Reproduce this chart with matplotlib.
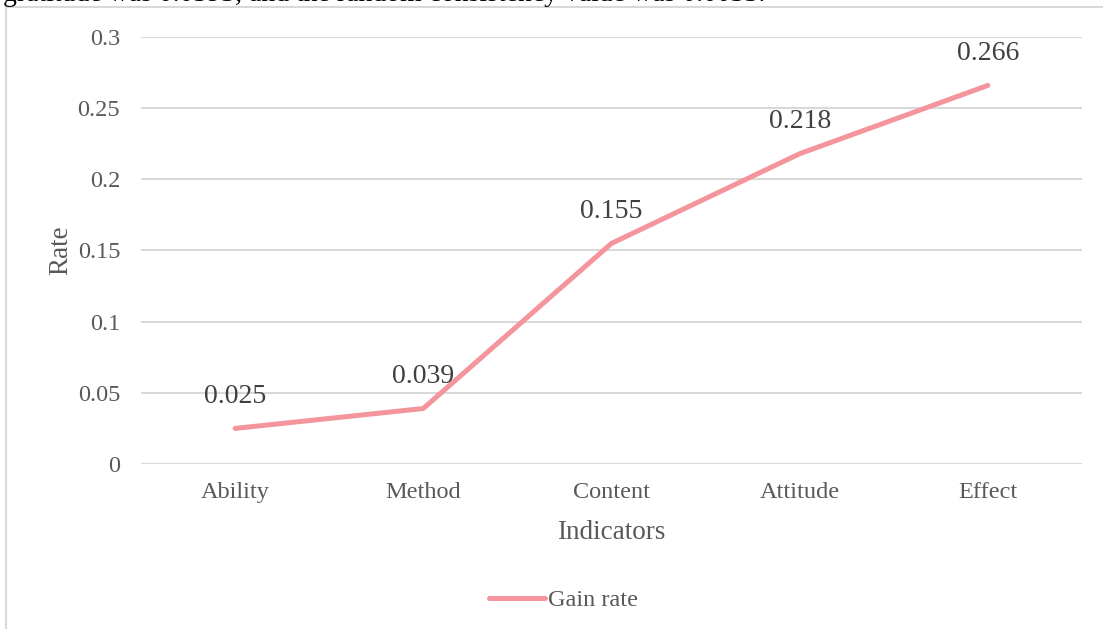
import matplotlib
matplotlib.use("Agg")
from matplotlib import pyplot as plt
from matplotlib.patches import Rectangle

# Data
categories = ["Ability", "Method", "Content", "Attitude", "Effect"]
gain_rate = [0.025, 0.039, 0.155, 0.218, 0.266]
y_ticks = [0, 0.05, 0.1, 0.15, 0.2, 0.25, 0.3]
y_tick_labels = ["0", "0.05", "0.1", "0.15", "0.2", "0.25", "0.3"]

plt.rcParams['font.family'] = ['Liberation Serif', 'DejaVu Serif']

W, H = 1103, 629
fig = plt.figure(figsize=(W / 100, H / 100), dpi=100)

# chart frame (partially off the page)
frame = Rectangle((6 / W, -0.2), 1.5, 1.2 - 7 / H, transform=fig.transFigure,
                  fill=False, edgecolor='#d9d9d9', linewidth=1.5)
fig.patches.append(frame)

# clipped line of page text above the chart
fig.text(3 / W, 1.0 - 1 / H, "gratitude was 0.0393, and the random consistency value was 0.0033.",
         fontsize=20, color='black', va='baseline', ha='left')

ax = fig.add_axes([141 / W, 1 - 464 / H, (1082 - 141) / W, (464 - 37) / H])
x = list(range(len(categories)))
ax.plot(x, gain_rate, color='#f4949c', linewidth=3.6, solid_capstyle='round',
        label='Gain rate', zorder=3)

for xi, v in zip(x, gain_rate):
    ax.annotate("{:.3f}".format(v), (xi, v), xytext=(0, 23), textcoords='offset points',
                ha='center', va='center', fontsize=20, color='#404040')

ax.set_xlim(-0.5, len(categories) - 0.5)
ax.set_ylim(0, 0.3)
ax.set_yticks(y_ticks)
ax.set_yticklabels(y_tick_labels)
ax.set_xticks(x)
ax.set_xticklabels(categories)
ax.tick_params(axis='both', length=0, labelsize=17.5, labelcolor='#595959')
ax.tick_params(axis='y', pad=15)
ax.tick_params(axis='x', pad=13)
ax.grid(axis='y', color='#d9d9d9', linewidth=1.5)
ax.set_axisbelow(True)
for s in ax.spines.values():
    s.set_visible(False)

ax.set_ylabel("Rate", fontsize=19.5, color='#595959', labelpad=3)
ax.set_xlabel("Indicators", fontsize=19.5, color='#595959', labelpad=12)

leg = ax.legend(loc='center', bbox_to_anchor=(0.449, 1 - (600 - 37) / (464 - 37)),
                frameon=False, fontsize=17.5, handlelength=2.3, handletextpad=0.1)
for t in leg.get_texts():
    t.set_color('#595959')

fig.savefig("out.png", dpi=100)
